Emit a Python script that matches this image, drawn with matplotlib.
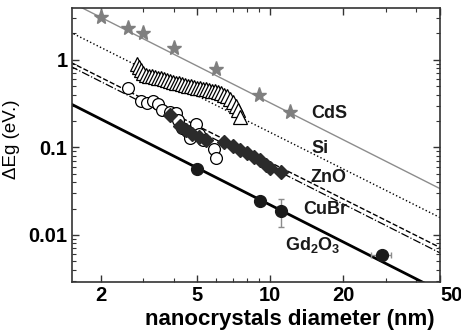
import numpy as np
import matplotlib
matplotlib.use("Agg")
import matplotlib.pyplot as plt
import matplotlib.transforms as mtransforms
from matplotlib.ticker import FixedLocator, LogLocator, NullFormatter

plt.rcParams['font.family'] = ['Liberation Sans', 'DejaVu Sans']
plt.rcParams['mathtext.fontset'] = 'custom'
plt.rcParams['mathtext.rm'] = 'Liberation Sans'
plt.rcParams['mathtext.bf'] = 'Liberation Sans:bold'

# CdS (stars)
cds_d = [2.0, 2.6, 3.0, 4.0, 6.0, 9.0, 12.0]
cds_e = [3.06, 2.29, 2.01, 1.35, 0.78, 0.40, 0.25]

# Si (open triangles)
si_d = [2.82, 2.87, 2.93, 2.98, 3.07, 3.16, 3.25, 3.34, 3.44, 3.54, 3.64, 3.74, 3.85,
        3.96, 4.08, 4.19, 4.32, 4.44, 4.57, 4.70, 4.83, 4.97, 5.12, 5.27, 5.42, 5.57,
        5.73, 5.90, 6.07, 6.24, 6.42, 6.61, 6.80, 7.00, 7.20, 7.33, 7.47]
si_e = [0.888, 0.821, 0.759, 0.710, 0.674, 0.656, 0.648, 0.631, 0.623, 0.615, 0.599,
        0.583, 0.575, 0.561, 0.546, 0.539, 0.525, 0.518, 0.505, 0.498, 0.485, 0.479,
        0.472, 0.466, 0.460, 0.448, 0.442, 0.437, 0.425, 0.414, 0.398, 0.383, 0.358,
        0.331, 0.294, 0.265, 0.220]

# CuBr (open circles)
cubr_d = [2.59, 2.93, 3.10, 3.28, 3.44, 3.57, 3.85, 4.08, 4.16, 4.32, 4.53, 4.66,
          4.93, 5.07, 5.26, 5.84, 5.95]
cubr_e = [0.472, 0.336, 0.318, 0.336, 0.310, 0.265, 0.251, 0.245, 0.204, 0.165,
          0.152, 0.127, 0.183, 0.141, 0.120, 0.0949, 0.0749]

# ZnO (filled diamonds)
zno_d = [3.85, 4.24, 4.48, 4.74, 5.07, 5.42, 6.43, 7.00, 7.48, 7.99, 8.53, 9.04,
         9.57, 10.0, 11.1]
zno_e = [0.232, 0.174, 0.156, 0.141, 0.130, 0.120, 0.114, 0.103, 0.0924, 0.0854,
         0.0769, 0.0710, 0.0623, 0.0575, 0.0518]

# Gd2O3 (filled circles)
gd_d = [4.97, 9.04, 11.03, 28.8]
gd_e = [0.0561, 0.0241, 0.0188, 0.0059]
gd_yerr = [[0, 0, 0.0065, 0], [0, 0, 0.0071, 0]]
gd_xerr = [0, 0, 0, 2.7]

# power-law fits E = A * d^-n
fit_names = ['CdS', 'Si', 'ZnO', 'CuBr', 'Gd2O3']
fit_a = [8.07, 3.63, 1.65, 1.49, 0.558]
fit_n = [1.40, 1.39, 1.39, 1.40, 1.405]
fit_styles = [('#8c8c8c', '-', 1.0), ('black', ':', 1.0), ('black', '--', 1.0),
              ('black', '-.', 0.9), ('black', '-', 2.0)]
d_range = np.array([1.5, 50.0])

label_text = ['CdS', 'Si', 'ZnO', 'CuBr', r'$\mathbf{Gd_2O_3}$']
label_d = [17.5, 16.0, 17.4, 16.9, 14.9]
label_e = [0.245, 0.0962, 0.0454, 0.0193, 0.0076]

x_ticks = [2, 5, 10, 20, 50]
x_minor = [3, 4, 6, 7, 8, 9, 30, 40]
y_ticks = [0.01, 0.1, 1]

fig = plt.figure(figsize=(4.61, 3.34), dpi=100)
ax = fig.add_axes([0.1555, 0.1557, 0.799, 0.8204])
ax.set_xscale('log')
ax.set_yscale('log')

for a, n, (c, ls, lw) in zip(fit_a, fit_n, fit_styles):
    ax.plot(d_range, a * d_range ** (-n), color=c, ls=ls, lw=lw)

ax.plot(cds_d, cds_e, ls='none', marker='*', ms=11, color='#7f7f7f', mec='#7f7f7f')
ax.plot(si_d, si_e, ls='none', marker='^', ms=9.5, mfc='white', mec='black', mew=0.9)
ax.plot(cubr_d, cubr_e, ls='none', marker='o', ms=8.5, mfc='white', mec='black', mew=0.9)
ax.plot(zno_d, zno_e, ls='none', marker='D', ms=7.5, color='#2b2b2b')
ax.errorbar(gd_d, gd_e, yerr=gd_yerr, xerr=gd_xerr, ls='none', marker='o', ms=8.5,
            color='#1a1a1a', ecolor='#8c8c8c', elinewidth=1, capsize=2.5, zorder=5)

for t, x, y in zip(label_text, label_d, label_e):
    ax.text(x, y, t, fontsize=13, fontweight='bold', color='#1a1a1a', ha='center', va='center')

ax.set_xlim(1.52, 50)
ax.set_ylim(0.0029, 3.9)
ax.set_xticks(x_ticks, labels=[str(v) for v in x_ticks])
ax.xaxis.set_minor_locator(FixedLocator(x_minor))
ax.xaxis.set_minor_formatter(NullFormatter())
ax.set_yticks(y_ticks, labels=['0.01', '0.1', '1'])
ax.yaxis.set_minor_locator(LogLocator(subs=np.arange(2, 10)))
ax.yaxis.set_minor_formatter(NullFormatter())
ax.tick_params(which='both', direction='in', top=True, right=True, color='#333333')
ax.tick_params(which='major', length=5, width=1, labelsize=14.5, pad=3)
ax.tick_params(which='minor', length=3, width=0.8)
for lab in ax.get_xticklabels() + ax.get_yticklabels():
    lab.set_fontweight('bold')
# the "50" sits a little right of its tick in the original
last = ax.get_xticklabels()[-1]
last.set_transform(last.get_transform() + mtransforms.ScaledTranslation(8 / 72, 0, fig.dpi_scale_trans))
for s in ax.spines.values():
    s.set_color('#333333')
    s.set_linewidth(1.2)

ax.set_xlabel('nanocrystals diameter (nm)', fontsize=16, fontweight='bold')
ax.xaxis.set_label_coords(0.593, -0.098)
ax.set_ylabel('ΔEg (eV.)', fontsize=13.5)
ax.yaxis.set_label_coords(-0.14, 0.52)

fig.savefig('out.png', dpi=100)
